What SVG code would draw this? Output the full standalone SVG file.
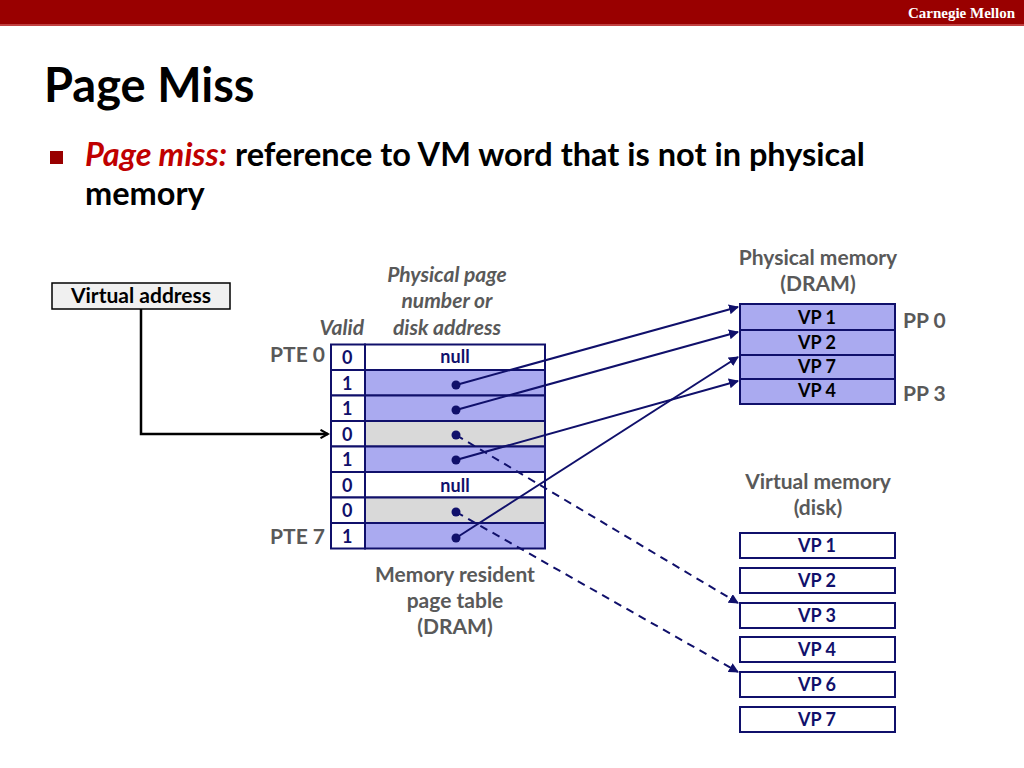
<svg xmlns="http://www.w3.org/2000/svg" width="1024" height="768" viewBox="0 0 1024 768">
<defs>
<style>
.t{font-family:Lato,"Open Sans","Liberation Sans",sans-serif;font-weight:bold}
.g{fill:#595959}
.n{fill:#10106b}
.it{font-style:italic}
.lbl{font-size:21px}
.cell{stroke:#10106b;stroke-width:2}
.blue{fill:#aaaaf0}
.gray{fill:#d9d9d9}
.white{fill:#ffffff}
.conn{stroke:#10106b;stroke-width:2;fill:none}
.dash{stroke-dasharray:8,6}
</style>
<marker id="ah" viewBox="0 0 10 10" refX="9" refY="5" markerWidth="5" markerHeight="5" orient="auto" markerUnits="strokeWidth">
<path d="M0,0 L10,5 L0,10 z" fill="#10106b"/>
</marker>
<marker id="ahb" viewBox="0 0 12 12" refX="10" refY="6" markerWidth="4" markerHeight="4" orient="auto" markerUnits="strokeWidth">
<path d="M1,1 L10,6 L1,11" fill="none" stroke="#000" stroke-width="2.5"/>
</marker>
</defs>
<rect width="1024" height="768" fill="#fff"/>
<g id="header">
<rect x="0" y="0" width="1024" height="25" fill="#990000"/>
<rect x="0" y="24" width="1024" height="2" fill="#c04040"/>
<text x="1015" y="18" text-anchor="end" font-family="Liberation Serif,serif" font-weight="bold" font-size="15" fill="#fff">Carnegie Mellon</text>
</g>
<g id="title">
<text x="44" y="102" class="t" font-size="47" fill="#000">Page Miss</text>
<rect x="50" y="151" width="13" height="13" fill="#990000"/>
<text x="85" y="166" class="t" font-size="32.5" fill="#000"><tspan fill="#c00000" font-style="italic">Page miss:</tspan> reference to VM word that is not in physical</text>
<text x="85" y="205" class="t" font-size="32.5" fill="#000">memory</text>
</g>
<g id="virtual-address">
<rect x="52" y="283" width="178" height="26" fill="#f0f0f0" stroke="#000" stroke-width="1.5"/>
<text x="141" y="303" text-anchor="middle" class="t lbl" fill="#000">Virtual address</text>
</g>
<g id="page-table">
<text x="447" y="282" text-anchor="middle" class="t lbl g it">Physical page</text>
<text x="447" y="308" text-anchor="middle" class="t lbl g it">number or</text>
<text x="447" y="335" text-anchor="middle" class="t lbl g it">disk address</text>
<text x="364" y="335" text-anchor="end" class="t lbl g it">Valid</text>
<text x="325" y="362" text-anchor="end" class="t lbl g">PTE 0</text>
<text x="325" y="544" text-anchor="end" class="t lbl g">PTE 7</text>
<rect x="365" y="344.5" width="180" height="25.5" class="cell white"/>
<rect x="365" y="370" width="180" height="25.5" class="cell blue"/>
<rect x="365" y="395.5" width="180" height="25.5" class="cell blue"/>
<rect x="365" y="421" width="180" height="25.5" class="cell gray"/>
<rect x="365" y="446.5" width="180" height="25.5" class="cell blue"/>
<rect x="365" y="472" width="180" height="25.5" class="cell white"/>
<rect x="365" y="497.5" width="180" height="25.5" class="cell gray"/>
<rect x="365" y="523" width="180" height="25.5" class="cell blue"/>
<rect x="331" y="344.5" width="34" height="25.5" class="cell white"/>
<rect x="331" y="370" width="34" height="25.5" class="cell white"/>
<rect x="331" y="395.5" width="34" height="25.5" class="cell white"/>
<rect x="331" y="421" width="34" height="25.5" class="cell white"/>
<rect x="331" y="446.5" width="34" height="25.5" class="cell white"/>
<rect x="331" y="472" width="34" height="25.5" class="cell white"/>
<rect x="331" y="497.5" width="34" height="25.5" class="cell white"/>
<rect x="331" y="523" width="34" height="25.5" class="cell white"/>
<g class="t n" font-size="18">
<text x="342" y="364">0</text>
<text x="342" y="390">1</text>
<text x="342" y="415">1</text>
<text x="342" y="441">0</text>
<text x="342" y="466">1</text>
<text x="342" y="492">0</text>
<text x="342" y="517">0</text>
<text x="342" y="543">1</text>
<text x="455" y="363" text-anchor="middle">null</text>
<text x="455" y="492" text-anchor="middle">null</text>
</g>
<text x="455" y="582" text-anchor="middle" class="t lbl g">Memory resident</text>
<text x="455" y="608" text-anchor="middle" class="t lbl g">page table</text>
<text x="455" y="634" text-anchor="middle" class="t lbl g">(DRAM)</text>
</g>
<g id="physical-memory">
<text x="818" y="265" text-anchor="middle" class="t lbl g">Physical memory</text>
<text x="818" y="291" text-anchor="middle" class="t lbl g">(DRAM)</text>
<rect x="740" y="304" width="155" height="26" class="cell blue"/>
<rect x="740" y="330" width="155" height="25" class="cell blue"/>
<rect x="740" y="355" width="155" height="24" class="cell blue"/>
<rect x="740" y="379" width="155" height="25" class="cell blue"/>
<g class="t" font-size="18" fill="#000" text-anchor="middle">
<text x="817" y="324">VP 1</text>
<text x="817" y="349">VP 2</text>
<text x="817" y="373">VP 7</text>
<text x="817" y="397">VP 4</text>
</g>
<text x="903" y="328" class="t lbl g">PP 0</text>
<text x="903" y="401" class="t lbl g">PP 3</text>
</g>
<g id="virtual-memory">
<text x="818" y="489" text-anchor="middle" class="t lbl g">Virtual memory</text>
<text x="818" y="515" text-anchor="middle" class="t lbl g">(disk)</text>
<rect x="740" y="533" width="155" height="25" class="cell white"/>
<rect x="740" y="568" width="155" height="25" class="cell white"/>
<rect x="740" y="603" width="155" height="25" class="cell white"/>
<rect x="740" y="637" width="155" height="25" class="cell white"/>
<rect x="740" y="672" width="155" height="25" class="cell white"/>
<rect x="740" y="707" width="155" height="25" class="cell white"/>
<g class="t n" font-size="18" text-anchor="middle">
<text x="817" y="552">VP 1</text>
<text x="817" y="587">VP 2</text>
<text x="817" y="622">VP 3</text>
<text x="817" y="656">VP 4</text>
<text x="817" y="691">VP 6</text>
<text x="817" y="726">VP 7</text>
</g>
</g>
<g id="connectors">
<path d="M141,309 V434 H328" fill="none" stroke="#000" stroke-width="2.5" marker-end="url(#ahb)"/>
<path d="M456,385 L738,307" class="conn" marker-end="url(#ah)"/>
<path d="M456,410 L738,332" class="conn" marker-end="url(#ah)"/>
<path d="M456,460 L738,381" class="conn" marker-end="url(#ah)"/>
<path d="M456,538 L738,357" class="conn" marker-end="url(#ah)"/>
<path d="M456,435 L738,603" class="conn dash" marker-end="url(#ah)"/>
<path d="M456,512 L738,672" class="conn dash" marker-end="url(#ah)"/>
<g fill="#10106b">
<circle cx="456" cy="385" r="4.5"/>
<circle cx="456" cy="410" r="4.5"/>
<circle cx="456" cy="435" r="4.5"/>
<circle cx="456" cy="460" r="4.5"/>
<circle cx="456" cy="512" r="4.5"/>
<circle cx="456" cy="538" r="4.5"/>
</g>
</g>
</svg>
